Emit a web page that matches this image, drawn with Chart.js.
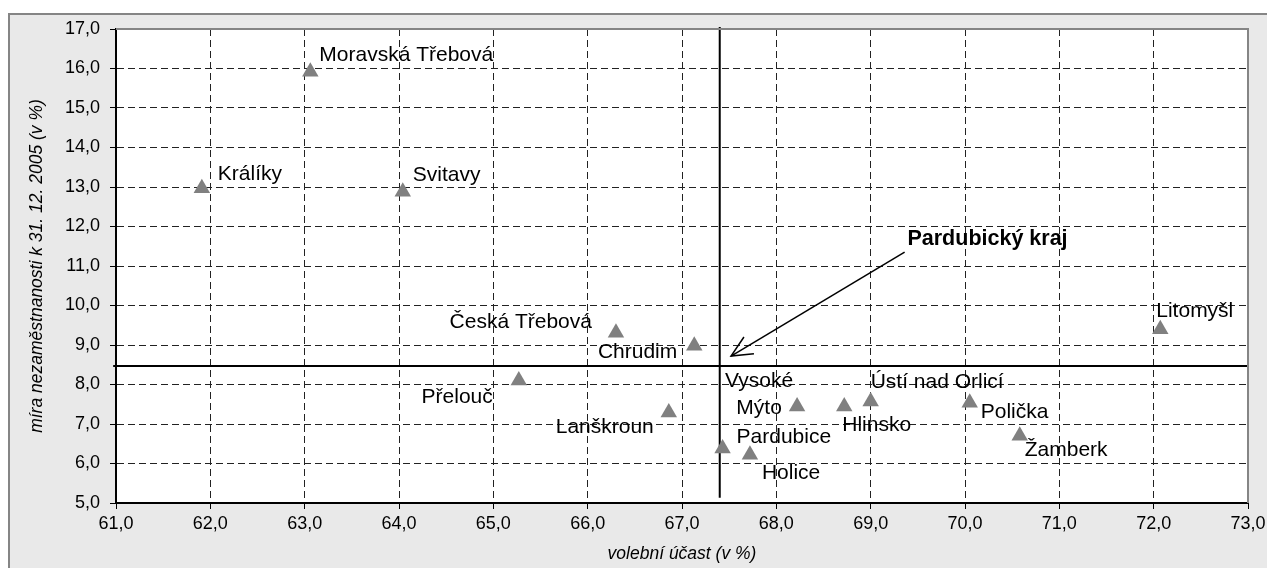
<!DOCTYPE html>
<html>
<head>
<meta charset="utf-8">
<script src="https://cdn.jsdelivr.net/npm/chart.js@4"></script>
<style>
  html, body { margin: 0; padding: 0; background: #fff; overflow: hidden; }
  #frame { position: absolute; left: 8px; top: 13px; width: 1300px; height: 600px;
           background: #e9e9e9; border-top: 2px solid #858585; border-left: 2px solid #858585; }
  #chart { position: absolute; left: 0; top: 0; }
</style>
</head>
<body>
<div id="frame"></div>
<canvas id="chart" width="1267" height="568"></canvas>
<script>
// towns of the Pardubice region
const towns = ['Králíky', 'Moravská Třebová', 'Svitavy', 'Česká Třebová', 'Chrudim', 'Přelouč',
  'Lanškroun', 'Vysoké\nMýto', 'Hlinsko', 'Ústí nad Orlicí', 'Pardubice', 'Holice',
  'Polička', 'Žamberk', 'Litomyšl'];
// volební účast (v %)
const turnout = [61.91, 63.06, 64.04, 66.30, 67.13, 65.27, 66.86, 68.22, 68.72, 69.00,
  67.43, 67.72, 70.05, 70.58, 72.07];
// míra nezaměstnanosti k 31. 12. 2005 (v %)
const unemployment = [12.97, 15.92, 12.88, 9.31, 8.98, 8.10, 7.29, 7.44, 7.44, 7.57,
  6.38, 6.22, 7.54, 6.70, 9.40];

// Pardubický kraj as a whole
const regionTurnout = 67.40;
const regionUnemployment = 8.47;
const regionLabel = 'Pardubický kraj';
const arrowFrom = { x: 69.36, y: 11.35 };
const arrowTo = { x: 67.52, y: 8.72 };
const regionLabelAt = { x: 69.39, y: 11.68 };

// where each town's label sits relative to its marker (px) and how it is aligned
const labelPos = [
  [16, -14, 'left'], [9, -16, 'left'], [10, -17, 'left'], [-24, -11, 'right'],
  [-17, 6, 'right'], [-26, 17, 'right'], [-15, 15, 'right'], [-38, -25, 'center'],
  [-2, 19, 'left'], [0, -19, 'left'], [14, -11, 'left'], [12, 18, 'left'],
  [11, 10, 'left'], [5, 14, 'left'], [-4, -18, 'left']
];

const fmt = v => v.toFixed(1).replace('.', ',');
const FONT = '"Liberation Sans", Arial, sans-serif';

const plotBg = {
  id: 'plotBg',
  beforeDraw(chart) {
    const { ctx, chartArea: a } = chart;
    ctx.save();
    ctx.fillStyle = '#fff';
    ctx.fillRect(a.left, a.top, a.right - a.left, a.bottom - a.top);
    ctx.restore();
  },
  afterDatasetsDraw(chart) {
    const { ctx, chartArea: a } = chart;
    ctx.save();
    ctx.strokeStyle = '#858585';
    ctx.lineWidth = 2;
    ctx.beginPath();
    ctx.moveTo(a.left, a.top);
    ctx.lineTo(a.right, a.top);
    ctx.lineTo(a.right, a.bottom);
    ctx.stroke();
    ctx.restore();
  }
};

const labels = {
  id: 'labels',
  afterDatasetsDraw(chart) {
    const { ctx } = chart;
    const meta = chart.getDatasetMeta(0);
    ctx.save();
    ctx.font = '21px ' + FONT;
    ctx.fillStyle = '#000';
    ctx.textBaseline = 'middle';
    meta.data.forEach((pt, i) => {
      const [dx, dy, align] = labelPos[i];
      ctx.textAlign = align;
      towns[i].split('\n').forEach((line, k) => {
        ctx.fillText(line, pt.x + dx, pt.y + dy + k * 27);
      });
    });

    // arrow head + region label
    const xs = chart.scales.x, ys = chart.scales.y;
    const tx = xs.getPixelForValue(arrowTo.x), ty = ys.getPixelForValue(arrowTo.y);
    const fx = xs.getPixelForValue(arrowFrom.x), fy = ys.getPixelForValue(arrowFrom.y);
    const ang = Math.atan2(fy - ty, fx - tx);
    const len = 23, spread = 25 * Math.PI / 180;
    ctx.strokeStyle = '#000';
    ctx.lineWidth = 1.5;
    ctx.beginPath();
    ctx.moveTo(tx + len * Math.cos(ang - spread), ty + len * Math.sin(ang - spread));
    ctx.lineTo(tx, ty);
    ctx.lineTo(tx + len * Math.cos(ang + spread), ty + len * Math.sin(ang + spread));
    ctx.stroke();

    ctx.font = 'bold 21.5px ' + FONT;
    ctx.textAlign = 'left';
    ctx.fillText(regionLabel, xs.getPixelForValue(regionLabelAt.x), ys.getPixelForValue(regionLabelAt.y));
    ctx.restore();
  }
};

const edge = (vals) => (c) => vals.includes(c.tick && c.tick.value) ? 'rgba(0,0,0,0)' : '#222';

new Chart(document.getElementById('chart'), {
  type: 'scatter',
  data: {
    datasets: [
      {
        data: turnout.map((x, i) => ({ x, y: unemployment[i] })),
        pointStyle: 'triangle',
        pointRadius: 9.5,
        pointHoverRadius: 9.5,
        backgroundColor: '#808080',
        borderColor: '#808080',
        borderWidth: 0,
        order: 0
      },
      {
        data: [{ x: regionTurnout, y: 17.05 }, { x: regionTurnout, y: 5.13 }],
        showLine: true, pointRadius: 0, borderColor: '#000', borderWidth: 2, clip: false, order: 1
      },
      {
        data: [{ x: 60.97, y: regionUnemployment }, { x: 73, y: regionUnemployment }],
        showLine: true, pointRadius: 0, borderColor: '#000', borderWidth: 2, clip: false, order: 1
      },
      {
        data: [arrowFrom, arrowTo],
        showLine: true, pointRadius: 0, borderColor: '#000', borderWidth: 1.5, clip: false, order: 1
      }
    ]
  },
  options: {
    responsive: false,
    animation: false,
    events: [],
    layout: { padding: { left: 0, top: 29, right: 19, bottom: 0 } },
    plugins: { legend: { display: false }, tooltip: { enabled: false } },
    scales: {
      x: {
        type: 'linear', min: 61, max: 73,
        afterFit: s => { s.height = 65; s.paddingLeft = 0; s.paddingRight = 0; },
        ticks: { stepSize: 1, callback: fmt, color: '#000', font: { family: FONT, size: 18 },
                 padding: 4, maxRotation: 0, autoSkip: false },
        grid: { color: edge([61, 73]), lineWidth: 1, tickLength: 6, tickColor: '#000' },
        border: { color: '#000', width: 2, dash: [7, 4] },
        title: { display: true, text: 'volební účast (v %)', color: '#000',
                 font: { family: FONT, size: 17.5, style: 'italic' }, padding: { top: 0, bottom: 3 } }
      },
      y: {
        type: 'linear', min: 5, max: 17,
        afterFit: s => { s.width = 116; },
        ticks: { stepSize: 1, callback: fmt, color: '#000', font: { family: FONT, size: 18 }, padding: 10 },
        grid: { color: edge([5, 17]), lineWidth: 1, tickLength: 6, tickColor: '#000' },
        border: { color: '#000', width: 2, dash: [7, 4] },
        title: { display: true, text: 'míra nezaměstnanosti k 31. 12. 2005 (v %)', color: '#000',
                 font: { family: FONT, size: 17.5, style: 'italic' }, padding: { top: 27, bottom: 0 } }
      }
    }
  },
  plugins: [plotBg, labels]
});
</script>
</body>
</html>
